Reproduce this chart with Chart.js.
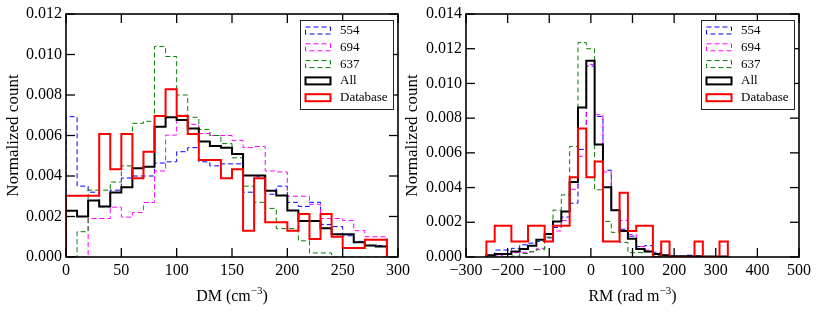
<!DOCTYPE html>
<html>
<head>
<meta charset="utf-8">
<script src="https://cdn.jsdelivr.net/npm/chart.js@4.4.1/dist/chart.umd.min.js"></script>
<style>
  html, body { margin: 0; padding: 0; background: #fff; }
  #wrap { position: relative; width: 817px; height: 312px; }
  #wrap canvas { position: absolute; left: 0; top: 0; }
</style>
</head>
<body>
<div id="wrap">
  <canvas id="dm" width="817" height="312"></canvas>
  <canvas id="rm" width="817" height="312"></canvas>
</div>
<script>
// bin edges (left panel: DM, right panel: RM)
const dmEdges = [0,10,20,30,40,50,60,70,80,90,100,110,120,130,140,150,160,170,180,190,200,210,220,230,240,250,260,270,280,290];
const rmEdges = [-251,-231,-211,-191,-171,-151,-131,-111,-91,-71,-51,-31,-11,9,29,49,69,89,109,129,149,169,189,209,229,249,269,289,309,329];

// DM histograms (normalized counts per bin)
const dm554 = [0.00693,0.0035,0.0032,0.00248,0.0033,0.0039,0.004,0.004,0.00464,0.0047,0.0052,0.0054,0.0047,0.0045,0.0046,0.0046,0.0032,0.004,0.0031,0.0035,0.0027,0.0025,0.0027,0.0016,0.0015,0.00105,0.00077,0.00056,0.00056];
const dm694 = [0,0,0.0019,0.0019,0.00246,0.00197,0.0022,0.00269,0.00425,0.00602,0.007,0.00655,0.0061,0.006,0.006,0.00576,0.0054,0.00546,0.00425,0.0042,0.003,0.003,0.0026,0.0019,0.0019,0.0018,0.0013,0.001,0.001];
const dm637 = [0,0.00125,0.0033,0.0033,0.0037,0.0045,0.0066,0.0067,0.0104,0.0099,0.008,0.0069,0.0063,0.006,0.0056,0.0049,0.0035,0.0027,0.0024,0.0014,0.0014,0.0008,0.0002,0.0002,0,0,0,0,0];
const dmAll = [0.00228,0.002,0.00279,0.00249,0.00318,0.00345,0.00438,0.00446,0.00643,0.0069,0.00676,0.00635,0.0057,0.00548,0.0054,0.00509,0.00402,0.00402,0.00327,0.00304,0.0023,0.00178,0.00178,0.00142,0.00112,0.00112,0.00073,0.00057,0.00052];
const dmDatabase = [0.00302,0.00302,0.00302,0.00607,0.00433,0.00607,0.00389,0.0052,0.00696,0.00828,0.00696,0.00607,0.00479,0.00479,0.00389,0.00433,0.0013,0.00389,0.00172,0.00172,0.0013,0.00212,0.00089,0.00212,0.001,0.00044,0.00044,0.00085,0.00085];

// RM histograms
const rm554 = [0.0001,0.0004,0.0004,0.0005,0.0007,0.0008,0.0009,0.0011,0.0017,0.0023,0.0031,0.0062,0.011,0.0081,0.005,0.0027,0.0016,0.0012,0.0006,0.00065,0.00027,0.0001,0.00005,0.00005,0.0001,0.00005,0,0,0];
const rm694 = [0.0001,0.0001,0.0002,0.00025,0.00027,0.0003,0.0005,0.0009,0.0015,0.0021,0.0039,0.0058,0.0111,0.0082,0.0049,0.0027,0.0021,0.0013,0.0006,0.0004,0.0002,0.0001,0.00005,0,0,0,0,0,0];
const rm637 = [0,0,0,0.00005,0.0002,0.0003,0.00042,0.00115,0.0027,0.00358,0.00637,0.01235,0.012,0.00387,0.00205,0.00142,0.00084,0.00025,0.00025,0.0003,0.0001,0.00005,0,0,0,0,0,0,0];
const rmAll = [0.0001,0.00017,0.00017,0.00032,0.00046,0.00065,0.001,0.00132,0.00205,0.00262,0.00432,0.00862,0.0113,0.00648,0.00402,0.0027,0.0015,0.00105,0.00046,0.00032,0.00017,0.0001,0.00005,0.00005,0.00005,0.00005,0.00003,0.00003,0.00003];
const rmDatabase = [0.0009,0.0018,0.0018,0.0009,0.0009,0.0018,0.0018,0.0009,0.0018,0.0018,0.0046,0.0074,0.0046,0.0055,0.0009,0.0009,0.0037,0.0015,0.0018,0.0018,0,0.0009,0,0,0,0.0009,0,0,0.0009];

const labels = ['554', '694', '637', 'All', 'Database'];
const dmTicks = [0, 50, 100, 150, 200, 250, 300];
const rmTicks = [-300, -200, -100, 0, 100, 200, 300, 400, 500];

const SERIF = '"Liberation Serif", "DejaVu Serif", serif';
Chart.defaults.font.family = SERIF;
Chart.defaults.color = '#000';

// step outline like matplotlib histtype='step'
function stepPoints(edges, vals) {
  const last = edges[edges.length - 1];
  const pts = [{ x: edges[0], y: 0 }];
  vals.forEach((v, i) => pts.push({ x: edges[i], y: v }));
  pts.push({ x: last, y: vals[vals.length - 1] });
  pts.push({ x: last, y: 0 });
  return pts;
}

const STYLE = [
  { color: '#0000ff', width: 1, dash: [5, 3], order: 4 },
  { color: '#ff00ff', width: 1, dash: [5, 3], order: 3 },
  { color: '#008000', width: 1, dash: [5, 3], order: 2 },
  { color: '#000000', width: 2, dash: [],     order: 1 },
  { color: '#ff0000', width: 2, dash: [],     order: 0 },
];

function makeSets(edges, series) {
  return series.map((vals, i) => ({
    label: labels[i],
    data: stepPoints(edges, vals),
    borderColor: STYLE[i].color,
    borderWidth: STYLE[i].width,
    borderDash: STYLE[i].dash,
    order: STYLE[i].order,
    stepped: true,
    pointRadius: 0,
    fill: false,
    tension: 0,
  }));
}

function line(ctx, x1, y1, x2, y2) {
  ctx.beginPath(); ctx.moveTo(x1, y1); ctx.lineTo(x2, y2); ctx.stroke();
}

// frame, inward ticks on all sides, x label with superscript, legend box
const mplFrame = {
  id: 'mplFrame',
  afterDatasetsDraw(chart, args, opts) {
    const { ctx, chartArea: a, scales: { x, y } } = chart;
    ctx.save();
    ctx.strokeStyle = '#000';
    ctx.lineWidth = 1.3;
    x.ticks.forEach(t => {
      const px = x.getPixelForValue(t.value);
      line(ctx, px, a.bottom, px, a.bottom - 9);
      line(ctx, px, a.top, px, a.top + 9);
    });
    y.ticks.forEach(t => {
      const py = y.getPixelForValue(t.value);
      line(ctx, a.left, py, a.left + 9, py);
      line(ctx, a.right, py, a.right - 9, py);
    });
    ctx.lineWidth = 1.6;
    ctx.strokeRect(a.left, a.top, a.width, a.height);

    // x axis label
    const parts = [[opts.xname + ' (', 16, 0], [opts.xunit, 16, 0], ['\u22123', 11, -7], [')', 16, 0]];
    let total = 0;
    parts.forEach(p => { ctx.font = p[1] + 'px ' + SERIF; p.push(ctx.measureText(p[0]).width); total += p[3]; });
    let cx = (a.left + a.right) / 2 - total / 2;
    ctx.fillStyle = '#000';
    ctx.textBaseline = 'alphabetic';
    ctx.textAlign = 'left';
    parts.forEach(p => {
      ctx.font = p[1] + 'px ' + SERIF;
      ctx.fillText(p[0], cx, 301 + p[2]);
      cx += p[3];
    });

    // legend
    const lw = 93, lh = 89;
    const lx = a.right - 5 - lw, ly = a.top + 6;
    ctx.fillStyle = '#fff';
    ctx.fillRect(lx, ly, lw, lh);
    ctx.lineWidth = 1;
    ctx.strokeStyle = '#222';
    ctx.strokeRect(lx + 0.5, ly + 0.5, lw, lh);
    ctx.font = '13px ' + SERIF;
    ctx.textBaseline = 'middle';
    chart.data.datasets.forEach((ds, i) => {
      const cy = ly + 10.5 + i * 16.8;
      ctx.strokeStyle = ds.borderColor;
      ctx.lineWidth = ds.borderWidth;
      ctx.setLineDash(ds.borderDash);
      ctx.strokeRect(lx + 5.5, cy - 3.5, 25, 7);
      ctx.setLineDash([]);
      ctx.fillStyle = '#000';
      ctx.fillText(ds.label, lx + 40, cy);
    });
    ctx.restore();
  }
};

function makeChart(id, edges, series, xr, xticks, yMax, pad, titlePad, xname, xunit) {
  return new Chart(document.getElementById(id), {
    type: 'line',
    data: { datasets: makeSets(edges, series) },
    plugins: [mplFrame],
    options: {
      responsive: false,
      devicePixelRatio: 1,
      animation: false,
      layout: { padding: pad },
      plugins: {
        legend: { display: false },
        tooltip: { enabled: false },
        mplFrame: { xname, xunit },
      },
      scales: {
        x: {
          type: 'linear', min: xr[0], max: xr[1],
          afterBuildTicks: s => { s.ticks = xticks.map(v => ({ value: v })); },
          ticks: {
            font: { size: 16 }, padding: 4, maxRotation: 0, autoSkip: false,
            callback: v => (v < 0 ? '\u2212' + Math.abs(v) : String(v)),
          },
          grid: { display: false, drawTicks: false },
          border: { display: false },
          afterFit: s => { s.height = 55; s.paddingLeft = 0; s.paddingRight = 0; },
        },
        y: {
          min: 0, max: yMax,
          ticks: { stepSize: 0.002, font: { size: 16 }, padding: 4, callback: v => v.toFixed(3) },
          grid: { display: false, drawTicks: false },
          border: { display: false },
          title: { display: true, text: 'Normalized count', font: { size: 17 }, padding: { top: titlePad, bottom: 0 } },
          afterFit: s => { s.width = 66; s.paddingTop = 0; s.paddingBottom = 0; },
        },
      },
    },
  });
}

makeChart('dm', dmEdges, [dm554, dm694, dm637, dmAll, dmDatabase], [0, 300], dmTicks, 0.012,
  { left: 0, right: 419, top: 14, bottom: 0 }, 3, 'DM', 'cm');
makeChart('rm', rmEdges, [rm554, rm694, rm637, rmAll, rmDatabase], [-300, 500], rmTicks, 0.014,
  { left: 400, right: 18, top: 14, bottom: 0 }, 2, 'RM', 'rad m');
</script>
</body>
</html>
